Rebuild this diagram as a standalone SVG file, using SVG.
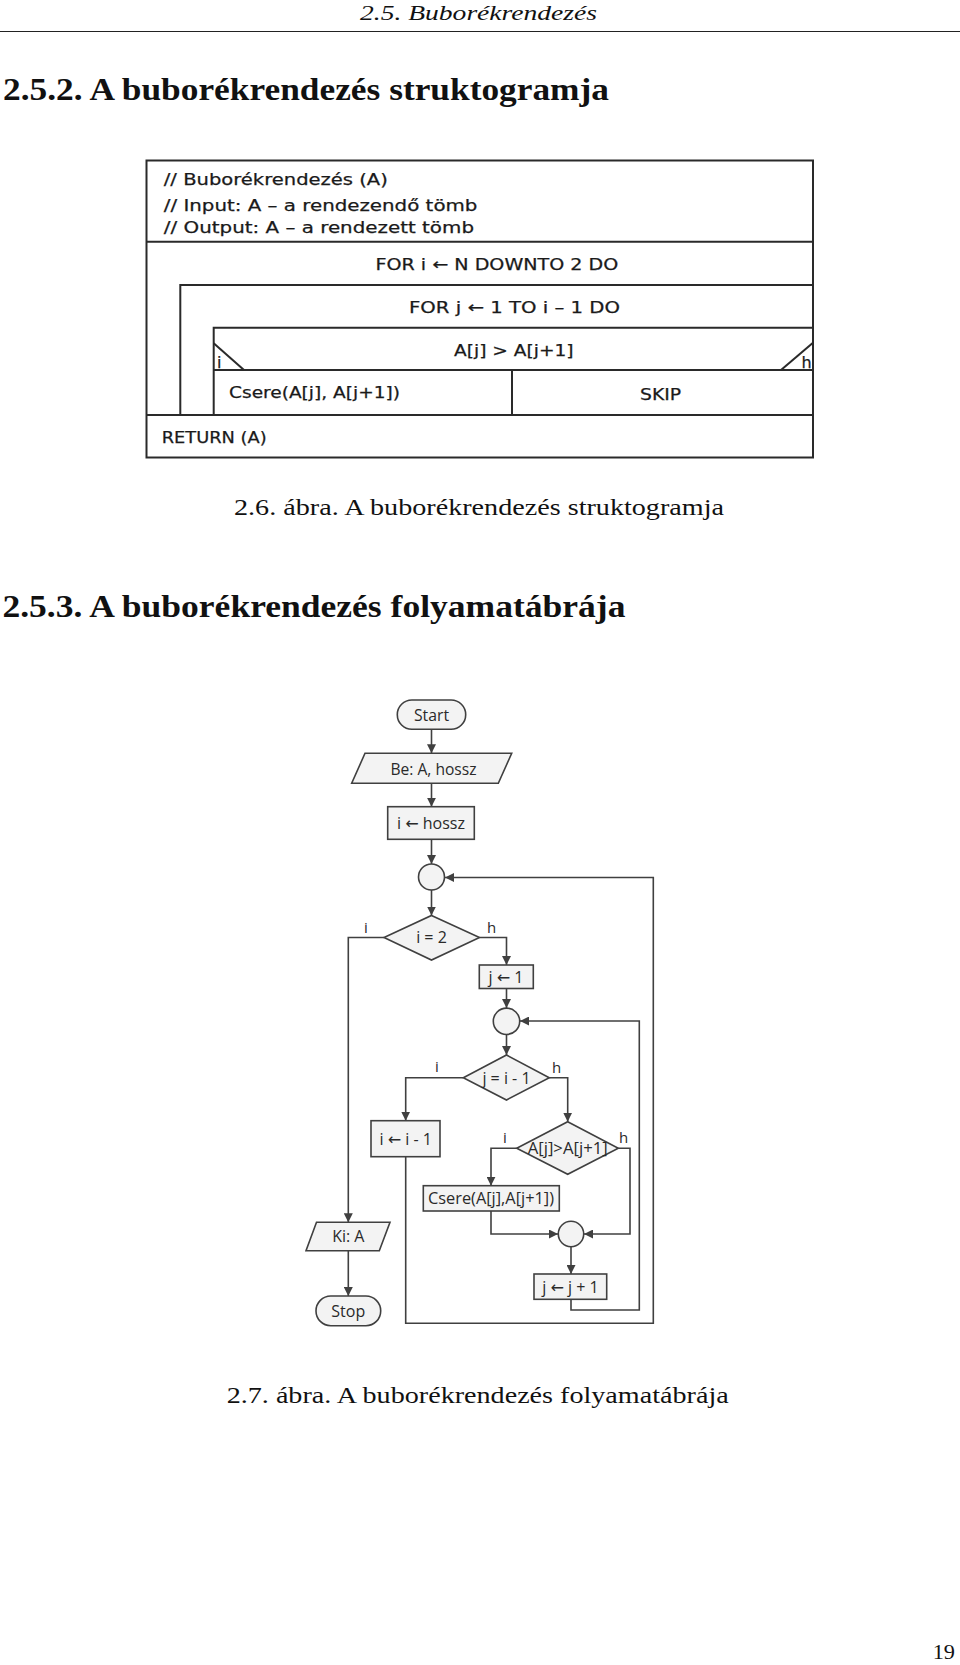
<svg xmlns="http://www.w3.org/2000/svg" width="960" height="1665" viewBox="0 0 960 1665">
<style>
.serif{font-family:"Liberation Serif","Times New Roman",serif;fill:#111}
.sg{font-family:"DejaVu Sans","Verdana",sans-serif;font-size:16px;fill:#1a1a1a;stroke:#1a1a1a;stroke-width:0.25}
.sl{stroke:#2a2a2a;stroke-width:2;fill:none}
.fc{font-family:"Open Sans","Noto Sans",sans-serif;font-size:16px;fill:#2a2a2a;text-anchor:middle}
.ar{font-family:"DejaVu Sans",sans-serif}
.nd{fill:#f3f3f3;stroke:#404040;stroke-width:1.6}
.cn{fill:none;stroke:#404040;stroke-width:1.6}
.lb{font-family:"Open Sans","Noto Sans",sans-serif;font-size:15px;fill:#2a2a2a}
</style>
<defs>
<marker id="ah" viewBox="0 0 10 10" refX="10" refY="5" markerWidth="9" markerHeight="9" markerUnits="userSpaceOnUse" orient="auto">
<path d="M0,0 L10,5 L0,10 z" fill="#404040"/>
</marker>
</defs>
<rect width="960" height="1665" fill="#fff"/>

<g id="page">
<text class="serif" x="360" y="20" font-size="20" font-style="italic" textLength="237" lengthAdjust="spacingAndGlyphs">2.5. Buborékrendezés</text>
<line x1="0" y1="31.5" x2="960" y2="31.5" stroke="#222" stroke-width="1.2"/>
<text class="serif" x="3" y="100" font-size="32" font-weight="bold" textLength="606" lengthAdjust="spacingAndGlyphs">2.5.2.  A buborékrendezés struktogramja</text>
<text class="serif" x="234" y="515" font-size="23" textLength="490" lengthAdjust="spacingAndGlyphs">2.6. ábra. A buborékrendezés struktogramja</text>
<text class="serif" x="2.4" y="617" font-size="32" font-weight="bold" textLength="623" lengthAdjust="spacingAndGlyphs">2.5.3.  A buborékrendezés folyamatábrája</text>
<text class="serif" x="226.7" y="1403.3" font-size="23" textLength="502" lengthAdjust="spacingAndGlyphs">2.7. ábra. A buborékrendezés folyamatábrája</text>
<text class="serif" x="932.7" y="1659.3" font-size="22" textLength="22.3" lengthAdjust="spacingAndGlyphs">19</text>
</g>

<g id="struktogram">
<rect class="sl" x="146.5" y="160.5" width="666.5" height="297"/>
<line class="sl" x1="146.5" y1="241.7" x2="813" y2="241.7"/>
<polyline class="sl" points="180.3,415 180.3,285 813,285"/>
<polyline class="sl" points="213.7,415 213.7,327.7 813,327.7"/>
<line class="sl" x1="213.7" y1="370" x2="813" y2="370"/>
<line class="sl" x1="213.7" y1="343.3" x2="244" y2="370" stroke-width="1.5"/>
<line class="sl" x1="813" y1="342.7" x2="781" y2="370" stroke-width="1.5"/>
<line class="sl" x1="512" y1="370" x2="512" y2="415"/>
<line class="sl" x1="146.5" y1="415" x2="813" y2="415"/>
<text class="sg" x="163.8" y="185" textLength="224" lengthAdjust="spacingAndGlyphs">// Buborékrendezés (A)</text>
<text class="sg" x="163.8" y="210.7" textLength="313.6" lengthAdjust="spacingAndGlyphs">// Input: A – a rendezendő tömb</text>
<text class="sg" x="163.8" y="233.3" textLength="310.2" lengthAdjust="spacingAndGlyphs">// Output: A – a rendezett tömb</text>
<text class="sg" x="375.5" y="270" textLength="242.8" lengthAdjust="spacingAndGlyphs">FOR i ← N DOWNTO 2 DO</text>
<text class="sg" x="409" y="312.7" textLength="211" lengthAdjust="spacingAndGlyphs">FOR j ← 1 TO i – 1 DO</text>
<text class="sg" x="454" y="356" textLength="119.6" lengthAdjust="spacingAndGlyphs">A[j] &gt; A[j+1]</text>
<text class="sg" x="217" y="368.3">i</text>
<text class="sg" x="801.5" y="368.3">h</text>
<text class="sg" x="229" y="398.3" textLength="171" lengthAdjust="spacingAndGlyphs">Csere(A[j], A[j+1])</text>
<text class="sg" x="640" y="400" textLength="41" lengthAdjust="spacingAndGlyphs">SKIP</text>
<text class="sg" x="161.7" y="442.7" textLength="104.9" lengthAdjust="spacingAndGlyphs">RETURN (A)</text>
</g>

<g id="connectors">
<line class="cn" x1="431.5" y1="729.3" x2="431.5" y2="753.3" marker-end="url(#ah)"/>
<line class="cn" x1="431.5" y1="783.3" x2="431.5" y2="806.7" marker-end="url(#ah)"/>
<line class="cn" x1="431.5" y1="839.3" x2="431.5" y2="864" marker-end="url(#ah)"/>
<line class="cn" x1="431.5" y1="890" x2="431.5" y2="915.5" marker-end="url(#ah)"/>
<polyline class="cn" points="384,937.5 348.3,937.5 348.3,1222.3" marker-end="url(#ah)"/>
<polyline class="cn" points="479.5,937.5 506.5,937.5 506.5,965" marker-end="url(#ah)"/>
<line class="cn" x1="506.5" y1="988.5" x2="506.5" y2="1008" marker-end="url(#ah)"/>
<line class="cn" x1="506.5" y1="1034.5" x2="506.5" y2="1055" marker-end="url(#ah)"/>
<polyline class="cn" points="463.3,1077.7 405.7,1077.7 405.7,1120.7" marker-end="url(#ah)"/>
<polyline class="cn" points="549.3,1077.7 567.7,1077.7 567.7,1121.7" marker-end="url(#ah)"/>
<polyline class="cn" points="516.7,1148.3 491,1148.3 491,1185.7" marker-end="url(#ah)"/>
<polyline class="cn" points="618.3,1148.3 630,1148.3 630,1234 584,1234" marker-end="url(#ah)"/>
<polyline class="cn" points="491,1211 491,1234 558,1234" marker-end="url(#ah)"/>
<line class="cn" x1="571" y1="1246.7" x2="571" y2="1274" marker-end="url(#ah)"/>
<polyline class="cn" points="571,1299.3 571,1310 639.3,1310 639.3,1021 520,1021" marker-end="url(#ah)"/>
<polyline class="cn" points="405.7,1156.7 405.7,1323.3 653.3,1323.3 653.3,877.5 445,877.5" marker-end="url(#ah)"/>
<line class="cn" x1="348.3" y1="1250.7" x2="348.3" y2="1296" marker-end="url(#ah)"/>
<text class="lb" x="364" y="933">i</text>
<text class="lb" x="487" y="933">h</text>
<text class="lb" x="435" y="1072">i</text>
<text class="lb" x="552" y="1073">h</text>
<text class="lb" x="503" y="1143">i</text>
<text class="lb" x="619" y="1143">h</text>
</g>

<g id="start"><rect class="nd" x="397.3" y="700" width="68.4" height="29.3" rx="14.6"/><text class="fc" x="431.5" y="720.5" textLength="35" lengthAdjust="spacingAndGlyphs">Start</text></g>
<g id="input"><polygon class="nd" points="365,753.3 511.7,753.3 498.3,783.3 351.7,783.3"/><text class="fc" x="433.5" y="774.5" textLength="86" lengthAdjust="spacingAndGlyphs">Be: A, hossz</text></g>
<g id="i-init"><rect class="nd" x="387.7" y="806.7" width="86.6" height="32.6"/><text class="fc" x="431" y="828.5">i <tspan class="ar">←</tspan> hossz</text></g>
<g id="join1"><circle class="nd" cx="431.5" cy="877" r="13"/></g>
<g id="cond-i"><polygon class="nd" points="431.5,915.5 479.5,937.5 431.5,960 384,937.5"/><text class="fc" x="431.5" y="943">i = 2</text></g>
<g id="j-init"><rect class="nd" x="479.3" y="965" width="54" height="23.5"/><text class="fc" x="506" y="982.5">j <tspan class="ar">←</tspan> 1</text></g>
<g id="join2"><circle class="nd" cx="506.5" cy="1021.3" r="13.2"/></g>
<g id="cond-j"><polygon class="nd" points="506.5,1055 549.3,1077.7 506.5,1100 463.3,1077.7"/><text class="fc" x="506.5" y="1083.5">j = i - 1</text></g>
<g id="i-dec"><rect class="nd" x="371" y="1120.7" width="69" height="36"/><text class="fc" x="405.7" y="1144.5">i <tspan class="ar">←</tspan> i - 1</text></g>
<g id="cond-a"><polygon class="nd" points="567.7,1121.7 618.3,1148.3 567.7,1174.3 516.7,1148.3"/><text class="fc" x="567.7" y="1154" textLength="80" lengthAdjust="spacingAndGlyphs">A[j]&gt;A[j+1]</text></g>
<g id="csere"><rect class="nd" x="423.3" y="1185.7" width="136" height="25.3"/><text class="fc" x="491" y="1203.8" textLength="126" lengthAdjust="spacingAndGlyphs">Csere(A[j],A[j+1])</text></g>
<g id="join3"><circle class="nd" cx="571" cy="1234" r="12.7"/></g>
<g id="j-inc"><rect class="nd" x="534" y="1274" width="72.7" height="25.3"/><text class="fc" x="570.5" y="1292.5">j <tspan class="ar">←</tspan> j + 1</text></g>
<g id="output"><polygon class="nd" points="316.5,1222.3 390,1222.3 379.3,1250.7 306,1250.7"/><text class="fc" x="348.3" y="1242.3">Ki: A</text></g>
<g id="stop"><rect class="nd" x="316" y="1296" width="64.7" height="29.7" rx="14.8"/><text class="fc" x="348.3" y="1317">Stop</text></g>
</svg>
